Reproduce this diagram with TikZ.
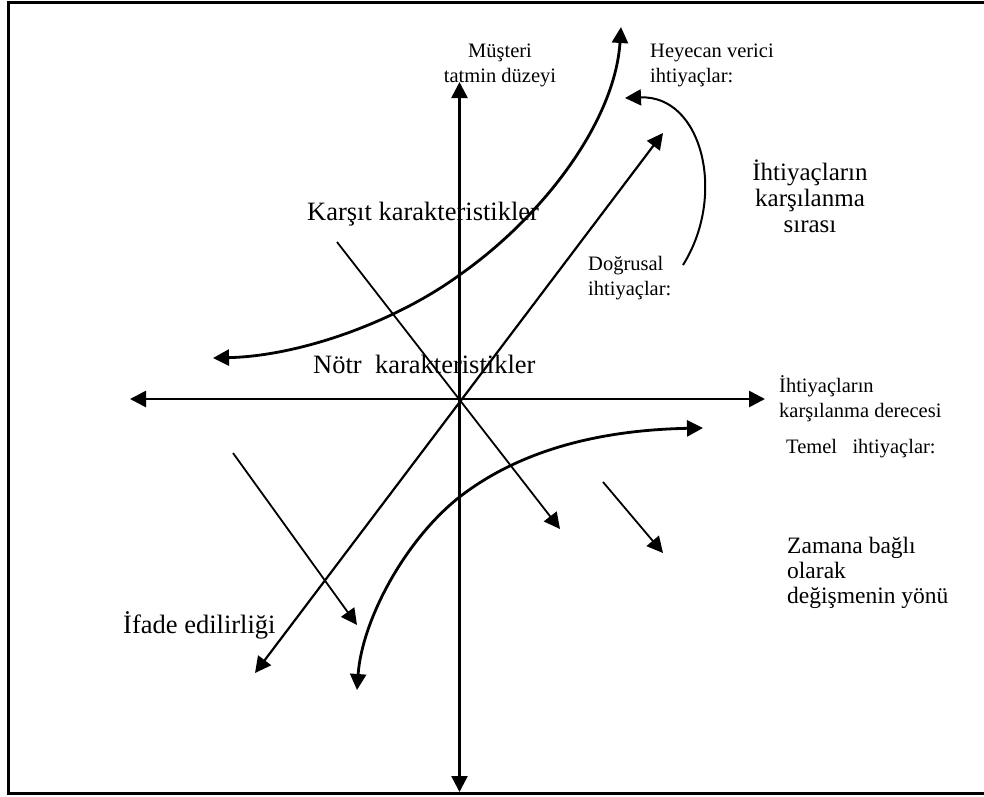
\documentclass[tikz,border=0pt]{standalone}
\usepackage{fontspec}
\setmainfont{Liberation Serif}
\usetikzlibrary{arrows.meta}
\begin{document}
\begin{tikzpicture}[x=1pt,y=-1pt,
  tipA/.tip={Triangle[length=16pt,width=16pt]},
  axisline/.style={line width=2.6pt},
  diagline/.style={line width=2.2pt},
  thinline/.style={line width=1.8pt},
  curveline/.style={line width=2.8pt},
  smalltxt/.style={font=\fontsize{20.5}{25}\selectfont, inner sep=0pt, align=left},
  midtxt/.style={font=\fontsize{23.5}{25}\selectfont, inner sep=0pt, align=left},
  bigtxt/.style={font=\fontsize{26.5}{28}\selectfont, inner sep=0pt, align=left}]
\useasboundingbox (0,0) rectangle (984,796);
\fill[white] (0,0) rectangle (984,796);
% frame
\draw[line width=3pt] (984,2.5) -- (8.5,2.5) -- (8.5,793.5) -- (984,793.5);

% coordinates
\coordinate (O) at (459.5,399);
\coordinate (vtop) at (459.5,82);
\coordinate (vbot) at (459.5,792);
\coordinate (hl) at (130,399);
\coordinate (hr) at (765,399);
\coordinate (dtop) at (663,133);
\coordinate (dbot) at (255,673);
\coordinate (atop) at (337,242);
\coordinate (abot) at (560,529);
\coordinate (s1a) at (233,453);
\coordinate (s1b) at (357,625);
\coordinate (s2a) at (603,482);
\coordinate (s2b) at (663,553);
\coordinate (hyL) at (213,358);
\coordinate (hyM) at (459.5,275);
\coordinate (hyT) at (621,27);
\coordinate (tmB) at (357,690);
\coordinate (tmM) at (459.5,497);
\coordinate (tmR) at (703,428);
\coordinate (srA) at (683,265);
\coordinate (srB) at (625,98);

% axes
\draw[axisline, tipA-tipA] (vbot) -- (vtop);
\draw[axisline, tipA-tipA] (hl) -- (hr);
% diagonal (linear needs)
\draw[diagline, tipA-tipA] (dbot) -- (dtop);
% anti-diagonal (reverse characteristics)
\draw[thinline, -tipA] (atop) -- (abot);
% small arrows
\draw[thinline, -tipA] (s1a) -- (s1b);
\draw[thinline, -tipA] (s2a) -- (s2b);
% exciting needs curve
\draw[curveline, tipA-tipA] (hyL) .. controls (300,356) and (395,322) .. (hyM)
  .. controls (545,215) and (615,120) .. (hyT);
% basic needs curve
\draw[curveline, tipA-tipA] (tmB) .. controls (362,620) and (405,540) .. (tmM)
  .. controls (520,450) and (600,430) .. (tmR);
% order curve
\draw[line width=2pt, -tipA] (srA) .. controls (727,195) and (702,95) .. (srB);

% texts (base anchor = baseline of the last line)
\node[smalltxt, align=center, anchor=base] (must) at (500,82) {Müşteri\\tatmin düzeyi};
\node[smalltxt, anchor=base west] (heye) at (650,82) {Heyecan verici\\ihtiyaçlar:};
\node[font=\fontsize{25}{26}\selectfont, inner sep=0pt, align=center, anchor=base] (sira) at (810,232) {İhtiyaçların\\karşılanma\\sırası};
\node[bigtxt, anchor=base west] (kars) at (307,220) {Karşıt karakteristikler};
\node[smalltxt, anchor=base west] (dogr) at (588,295) {Doğrusal\\ihtiyaçlar:};
\node[bigtxt, anchor=base west] (notr) at (313,373) {Nötr\ \ karakteristikler};
\node[smalltxt, anchor=base west] (dere) at (779,417) {İhtiyaçların\\karşılanma derecesi};
\node[smalltxt, anchor=base west] (teme) at (786,453) {Temel\ \ \ ihtiyaçlar:};
\node[midtxt, anchor=base west] (zama) at (787,603) {Zamana bağlı\\olarak\\değişmenin yönü};
\node[bigtxt, anchor=base west] (ifad) at (123,633) {İfade edilirliği};
\end{tikzpicture}
\end{document}
